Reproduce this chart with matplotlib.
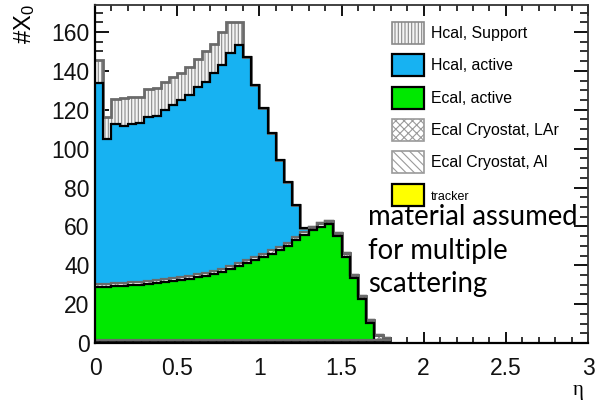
import numpy as np
import matplotlib
matplotlib.use("Agg")
import matplotlib.pyplot as plt
from matplotlib.patches import Patch

plt.rcParams["font.family"] = ["Liberation Sans", "DejaVu Sans"]
plt.rcParams["mathtext.fontset"] = "custom"
plt.rcParams["mathtext.rm"] = "Liberation Sans"
plt.rcParams["mathtext.it"] = "Liberation Sans:italic"
plt.rcParams["hatch.linewidth"] = 0.8

# eta binning (0.05 wide bins from 0 to 1.8)
eta_edges = np.round(np.linspace(0.0, 1.8, 37), 3)

# radiation lengths per eta bin, one array per detector component (stack order bottom -> top)
tracker = [0.3] * 36
ecal_cryostat_al = [1.3] * 36
ecal_active = [27.4, 27.4, 27.5, 27.8, 28.1, 28.4, 28.8, 29.3, 29.8, 30.3,
               30.8, 31.4, 32.1, 33.0, 34.0, 35.1, 36.4, 37.8, 39.4, 41.0,
               42.7, 44.4, 46.2, 48.1, 51.3, 54.1, 56.4, 58.3, 59.8, 53.2,
               42.9, 32.0, 21.2, 8.6, 0.0, 0.0]
ecal_cryostat_lar = [1.6] * 34 + [2.5, 1.0]
hcal_active = [103.0, 74.2, 81.9, 80.6, 81.3, 81.4, 84.4, 84.5, 86.9, 88.9,
               91.0, 93.0, 96.2, 98.2, 101.5, 104.7, 109.4, 112.3, 104.7, 88.5,
               74.8, 60.2, 44.6, 31.7, 16.5, 1.7] + [0.0] * 10
hcal_support = [12.0, 11.6, 12.9, 14.2, 13.9, 13.5, 14.1, 14.0, 14.5, 14.6,
                13.7, 14.6, 14.5, 16.0, 15.3, 17.2, 16.3, 12.0] + [0.0] * 18

legend_labels = ["Hcal, Support", "Hcal, active", "Ecal, active",
                 "Ecal Cryostat, LAr", "Ecal Cryostat, Al", "tracker"]
xticks = [0, 0.5, 1, 1.5, 2, 2.5, 3]
xtick_labels = ["0", "0.5", "1", "1.5", "2", "2.5", "3"]
yticks = [0, 20, 40, 60, 80, 100, 120, 140, 160]

BLUE = "#17b2f2"
GREEN = "#00e800"
YELLOW = "#ffff00"

# style per component: fill, hatch colour, hatch, outline colour, outline width
styles = {
    "tracker": dict(face=YELLOW, hcol=YELLOW, hatch=None, line="#000000", lw=1.2),
    "al": dict(face="#ffffff", hcol="#909090", hatch="\\\\\\\\", line="#6a6a6a", lw=1.6),
    "ecal": dict(face=GREEN, hcol=GREEN, hatch=None, line="#000000", lw=1.6),
    "lar": dict(face="#ffffff", hcol="#909090", hatch="xxxx", line="#6a6a6a", lw=1.6),
    "hcal": dict(face=BLUE, hcol=BLUE, hatch=None, line="#000000", lw=1.6),
    "support": dict(face="#f4f4f4", hcol="#8a8a8a", hatch="|||||", line="#6a6a6a", lw=2.0),
}

stack = [("tracker", tracker), ("al", ecal_cryostat_al), ("ecal", ecal_active),
         ("lar", ecal_cryostat_lar), ("hcal", hcal_active), ("support", hcal_support)]

fig = plt.figure(figsize=(5.96, 4.0), dpi=100)
ax = fig.add_axes([95 / 596, 57 / 400, 493 / 596, 338 / 400])

bottom = np.zeros(len(eta_edges) - 1)
tops = []
for name, vals in stack:
    st = styles[name]
    top = bottom + np.asarray(vals)
    ax.stairs(top, eta_edges, baseline=bottom, fill=True,
              facecolor=st["face"], edgecolor=st["hcol"], linewidth=0,
              hatch=st["hatch"], zorder=2)
    tops.append((name, top))
    bottom = top

# outlines, drawn from the top of the stack downwards
for name, top in reversed(tops):
    st = styles[name]
    ax.stairs(top, eta_edges, baseline=None, color=st["line"],
              linewidth=st["lw"], zorder=3)

ax.set_xlim(0, 3)
ax.set_ylim(0, 173.9)
ax.set_xticks(xticks)
ax.set_xticklabels(xtick_labels)
ax.set_yticks(yticks)
ax.xaxis.set_minor_locator(matplotlib.ticker.MultipleLocator(0.1))
ax.yaxis.set_minor_locator(matplotlib.ticker.MultipleLocator(5))
ax.tick_params(axis="both", which="both", direction="in", top=True, right=True,
               labelsize=16.5, colors="#111111")
ax.tick_params(axis="y", which="major", length=10, width=1.4, pad=4)
ax.tick_params(axis="y", which="minor", length=5.5, width=1.2)
ax.tick_params(axis="x", which="major", length=8, width=1.4, pad=10)
ax.tick_params(axis="x", which="minor", length=4.5, width=1.2)
for side in ["left", "bottom"]:
    ax.spines[side].set_linewidth(1.6)
for side in ["top", "right"]:
    ax.spines[side].set_linewidth(1.3)
    ax.spines[side].set_color("#333333")
for sp in ax.spines.values():
    sp.set_zorder(4)

fig.text(25 / 596, 1 - 4 / 400, r"#X$_\mathrm{0}$", rotation=90,
         ha="center", va="top", fontsize=17)
fig.text(578 / 596, 1 - 390 / 400, "\u03b7", ha="center", va="center",
         fontsize=15, family=["Liberation Serif", "DejaVu Serif"])

handles = [
    Patch(facecolor="#f4f4f4", edgecolor="#8a8a8a", hatch="|||||", linewidth=1.2),
    Patch(facecolor=BLUE, edgecolor="#000000", linewidth=1.6),
    Patch(facecolor=GREEN, edgecolor="#000000", linewidth=1.6),
    Patch(facecolor="#ffffff", edgecolor="#9a9a9a", hatch="xxxx", linewidth=1.2),
    Patch(facecolor="#ffffff", edgecolor="#9a9a9a", hatch="\\\\\\\\", linewidth=1.2),
    Patch(facecolor=YELLOW, edgecolor="#000000", linewidth=1.6),
]
leg = ax.legend(handles, legend_labels, loc="upper left",
                bbox_to_anchor=(392 / 596, 1 - 22 / 400), bbox_transform=fig.transFigure,
                frameon=False, fontsize=11.4, handlelength=2.0, handleheight=1.75,
                labelspacing=0.66, handletextpad=0.45, borderpad=0.0, borderaxespad=0)
leg.get_texts()[-1].set_fontsize(9)

fig.text(368 / 596, 1 - 204 / 400, "material assumed\nfor multiple\nscattering",
         ha="left", va="top", fontsize=19.8, family=["Lato", "DejaVu Sans"],
         linespacing=1.36, color="#000000")

fig.savefig("out.png", dpi=100)
